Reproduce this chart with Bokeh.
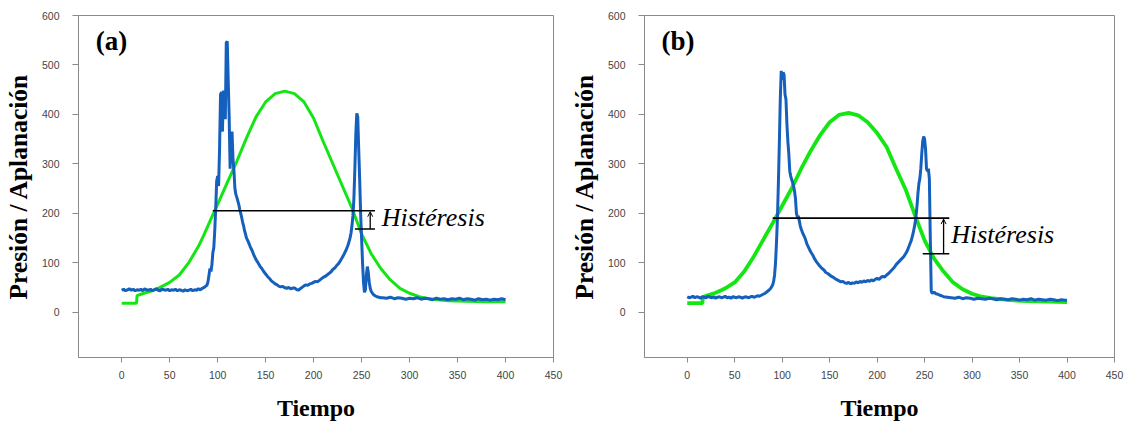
from bokeh.plotting import figure
from bokeh.layouts import row
from bokeh.models import Range1d, FixedTicker, Label, Arrow, OpenHead
from bokeh.embed import file_html
from bokeh.resources import INLINE

# ---------------- data ----------------
X_TICKS = [0, 50, 100, 150, 200, 250, 300, 350, 400, 450]
Y_TICKS = [0, 100, 200, 300, 400, 500, 600]
X_LABEL = "Tiempo"
Y_LABEL = "Presión / Aplanación"
PANEL_TAGS = ["(a)", "(b)"]
HYST_TEXT = "Histéresis"

# panel (a) - applanation (green)
a_green_t = [0, 15.5, 16, 20, 30, 40, 50, 60, 70, 80, 85, 90, 95, 100, 110, 120, 130, 140, 150, 160,
             170, 180, 190, 200, 210, 220, 230, 240, 250, 260, 270, 280, 290, 300, 310, 320, 330,
             340, 360, 380, 400]
a_green_v = [18, 18, 33, 36, 42, 50, 60, 75, 100, 133, 153, 175, 197, 218, 262, 305, 352, 395, 425, 442,
             447, 442, 425, 392, 345, 300, 255, 210, 158, 118, 88, 65, 48, 38, 31, 27, 25,
             23, 22, 21, 21]

# panel (a) - pressure (blue)
a_blue_t = [0, 2, 4, 6, 8, 10, 12, 14, 16, 18, 20, 22, 24, 26, 28, 30, 32, 34, 36, 38, 40, 42, 44,
            46, 48, 50, 52, 54, 56, 58, 60, 62, 64, 66, 68, 70, 72, 74, 76, 78, 80, 82, 84, 86, 88,
            89, 90, 91, 92, 93, 94, 95, 96, 97, 98, 99, 100, 101, 102, 103, 104, 105, 106, 107, 108,
            109, 110, 111, 112, 113, 114, 115, 116, 117, 118, 119, 120, 121, 122, 123, 124, 125, 126,
            127, 128, 129, 130, 132, 134, 136, 138, 140, 142, 144, 146, 148, 150, 152, 154, 156, 158,
            160, 162, 164, 166, 168, 170, 172, 174, 176, 178, 180, 182, 184, 186, 188, 190, 192, 194,
            196, 198, 200, 202, 204, 206, 208, 210, 212, 214, 216, 218, 220, 222, 224, 226, 228, 230,
            232, 234, 236, 238, 239, 240, 241, 242, 243, 244, 245, 246, 247, 248, 249, 250, 251, 252,
            253, 254, 255, 256, 257, 258, 259, 260, 262, 264, 266, 268, 270,
            272, 276, 280, 284, 288, 292, 296, 300, 304, 308, 312, 316, 320, 324, 328, 332, 336, 340,
            344, 348, 352, 356, 360, 364, 368, 372, 376, 380, 384, 388, 392, 396, 400]
a_blue_v = [44, 46, 43, 45, 47, 44, 46, 43, 45, 44, 46, 43, 47, 45, 44, 46, 43, 45, 47, 44, 43, 46, 45,
            44, 46, 43, 45, 44, 46, 43, 45, 44, 42, 45, 43, 44, 46, 43, 45, 44, 47, 45, 48, 50, 53,
            55, 62, 75, 88, 82, 95, 120, 130, 165, 210, 265, 275, 255, 330, 440, 445, 365, 448, 440, 390,
            545, 548, 470, 395, 290, 355, 365, 310, 285, 250, 238, 232, 225, 218, 208, 200, 192, 182,
            175, 165, 158, 150, 142, 132, 124, 114, 106, 100, 93, 88, 82, 77, 72, 68, 63, 60,
            57, 55, 52, 51, 52, 49, 48, 50, 47, 48, 49, 46, 44, 47, 50, 53, 55, 54,
            57, 58, 60, 62, 61, 64, 67, 70, 72, 75, 78, 81, 86, 89, 94, 98, 104, 111,
            118, 126, 136, 150, 160, 175, 195, 230, 290, 360, 402, 395, 330, 270, 200, 150, 100, 60,
            40, 45, 75, 92, 80, 60, 48, 42, 36, 33, 31, 30, 29,
            29, 28, 30, 27, 29, 28, 26, 28, 27, 29, 26, 28, 27, 25, 28, 26, 27, 25,
            27, 26, 28, 25, 27, 26, 24, 27, 25, 26, 24, 26, 25, 27, 25]

# panel (b) - applanation (green)
b_green_t = [0, 16, 16.5, 20, 30, 37, 40, 50, 60, 70, 80, 90, 100, 110, 120, 130, 140, 150, 160, 170,
             180, 190, 200, 210, 220, 230, 240, 250, 260, 270, 280, 290, 300, 310, 320, 330, 340,
             360, 380, 400]
b_green_v = [18, 18, 30, 33, 39, 45, 48, 60, 82, 112, 146, 180, 215, 250, 290, 326, 358, 384, 399, 403,
             398, 384, 362, 334, 290, 248, 195, 145, 108, 82, 60, 46, 37, 31, 28, 26, 24,
             22, 21, 20]

# panel (b) - pressure (blue)
b_blue_t = [0, 2, 4, 6, 8, 10, 12, 14, 16, 18, 20, 22, 24, 26, 28, 30, 32, 34, 36, 38, 40, 42, 44,
            46, 48, 50, 52, 54, 56, 58, 60, 62, 64, 66, 68, 70, 72, 74, 76, 78, 80, 82, 84,
            86, 88, 90, 91, 92, 93, 94, 95, 96, 97, 98, 99, 100, 101, 102, 103, 104, 105, 106, 107,
            108, 109, 110, 111, 112, 113, 114, 115, 116, 117, 118, 119, 120, 122, 124, 126, 128, 130,
            132, 134, 136, 138, 140, 142, 144, 146, 148, 150, 152, 154, 156, 158, 160, 162, 164, 166,
            168, 170, 172, 174, 176, 178, 180, 182, 184, 186, 188, 190, 192, 194, 196, 198, 200, 202,
            204, 206, 208, 210, 212, 214, 216, 218, 220, 222, 224, 226, 228, 230, 232, 234, 236, 238,
            240, 241, 242, 243, 244, 245, 246, 247, 248, 249, 250, 251, 252, 253, 254, 255, 256, 257,
            258, 260, 262, 264, 266, 268, 270,
            274, 278, 282, 286, 290, 294, 298, 302, 306, 310, 314, 318, 322, 326, 330, 334, 338, 342,
            346, 350, 354, 358, 362, 366, 370, 374, 378, 382, 386, 390, 394, 398, 400]
b_blue_v = [31, 29, 30, 32, 29, 31, 30, 28, 31, 30, 29, 32, 30, 29, 31, 28, 30, 31, 29, 30, 32, 29, 30,
            28, 31, 30, 29, 31, 30, 28, 30, 31, 29, 30, 32, 30, 31, 33, 32, 34, 36, 38, 41,
            44, 48, 55, 62, 75, 100, 140, 190, 260, 340, 430, 488, 470, 485, 480, 440, 430, 380, 345, 320,
            285, 275, 268, 262, 255, 245, 230, 200, 192, 195, 185, 175, 168, 158, 150, 138, 130, 122,
            116, 108, 102, 97, 92, 88, 85, 80, 78, 75, 72, 70, 67, 65, 63, 61, 62, 59,
            58, 60, 57, 59, 58, 61, 59, 62, 60, 63, 61, 64, 62, 65, 63, 66, 68, 66,
            70, 72, 71, 75, 78, 82, 86, 90, 96, 100, 104, 108, 112, 118, 125, 135, 145, 160,
            180, 195, 215, 240, 260, 270, 290, 320, 345, 355, 350, 330, 290, 285, 290, 270, 150, 42,
            38, 40, 37, 36, 34, 33, 31,
            30, 29, 28, 30, 27, 29, 28, 26, 28, 27, 26, 28, 27, 25, 27, 26, 25, 27,
            26, 24, 26, 25, 27, 24, 26, 25, 24, 26, 25, 23, 25, 24, 24]

# hysteresis marker values (level, line start, bar x, bar bottom, tick start, tick end)
a_hyst = dict(level=205, start=95, bar=259, low=168, t0=243, t1=264, tx=271, ty=191)
b_hyst = dict(level=190, start=90, bar=270, low=118, t0=248, t1=276, tx=278, ty=157)

GREEN = "#14E614"
BLUE = "#1560BD"
AXIS_GRAY = "#8a8a8a"


def make_panel(tag, gt, gv, bt, bv, h, frame_w, border_left, green_w):
    p = figure(frame_width=frame_w, frame_height=342,
               x_range=Range1d(-45, 450), y_range=Range1d(-92, 600),
               output_backend="svg", toolbar_location=None,
               min_border_left=border_left, min_border_right=12,
               min_border_top=15, min_border_bottom=66,
               background_fill_color="white", border_fill_color="white")
    p.xgrid.visible = False
    p.ygrid.visible = False
    p.outline_line_color = AXIS_GRAY
    p.outline_line_width = 1

    for ax in (p.xaxis[0], p.yaxis[0]):
        ax.axis_line_color = AXIS_GRAY
        ax.major_tick_line_color = AXIS_GRAY
        ax.minor_tick_line_color = None
        ax.major_tick_in = 0
        ax.major_label_text_font = "Liberation Sans"
        ax.major_label_text_font_size = "10.5px"
        ax.major_label_text_color = "#444444"
        ax.axis_label_text_font = "Liberation Serif"
        ax.axis_label_text_font_style = "bold"
        ax.axis_label_text_color = "black"

    p.xaxis.axis_label_text_font_size = "24px"
    p.yaxis.axis_label_text_font_size = "25.5px"
    p.xaxis.ticker = FixedTicker(ticks=X_TICKS)
    p.yaxis.ticker = FixedTicker(ticks=Y_TICKS)
    p.xaxis.major_tick_out = 5
    p.xaxis.major_label_standoff = 8
    p.xaxis.axis_label_standoff = 13
    p.yaxis.major_tick_out = 6
    p.yaxis.major_label_standoff = 13
    p.yaxis.axis_label_standoff = 6
    p.xaxis.axis_label = X_LABEL
    p.yaxis.axis_label = Y_LABEL

    p.line(gt, gv, line_color=GREEN, line_width=green_w)
    p.line(bt, bv, line_color=BLUE, line_width=3)

    # hysteresis annotation
    p.segment(x0=[h["start"], h["t0"]], y0=[h["level"], h["low"]],
              x1=[h["t1"], h["t1"]], y1=[h["level"], h["low"]],
              line_color="black", line_width=1.6)
    p.add_layout(Arrow(end=OpenHead(size=5, line_width=1, line_color="black"),
                       x_start=h["bar"], y_start=h["low"], x_end=h["bar"], y_end=h["level"] - 2,
                       line_color="black", line_width=1.3))
    p.add_layout(Label(x=h["tx"], y=h["ty"], text=HYST_TEXT, text_font="Liberation Serif",
                       text_font_style="italic", text_font_size="26px", text_baseline="middle",
                       text_color="black"))
    p.add_layout(Label(x=-27, y=549, text=tag, text_font="Liberation Serif",
                       text_font_style="bold", text_font_size="27px", text_baseline="middle",
                       text_color="black"))
    return p


p1 = make_panel(PANEL_TAGS[0], a_green_t, a_green_v, a_blue_t, a_blue_v, a_hyst, 475, 73, 3)
p2 = make_panel(PANEL_TAGS[1], b_green_t, b_green_v, b_blue_t, b_blue_v, b_hyst, 470, 79, 3.8)

layout = row(p1, p2)
open("out.html", "w").write(file_html(layout, INLINE))
